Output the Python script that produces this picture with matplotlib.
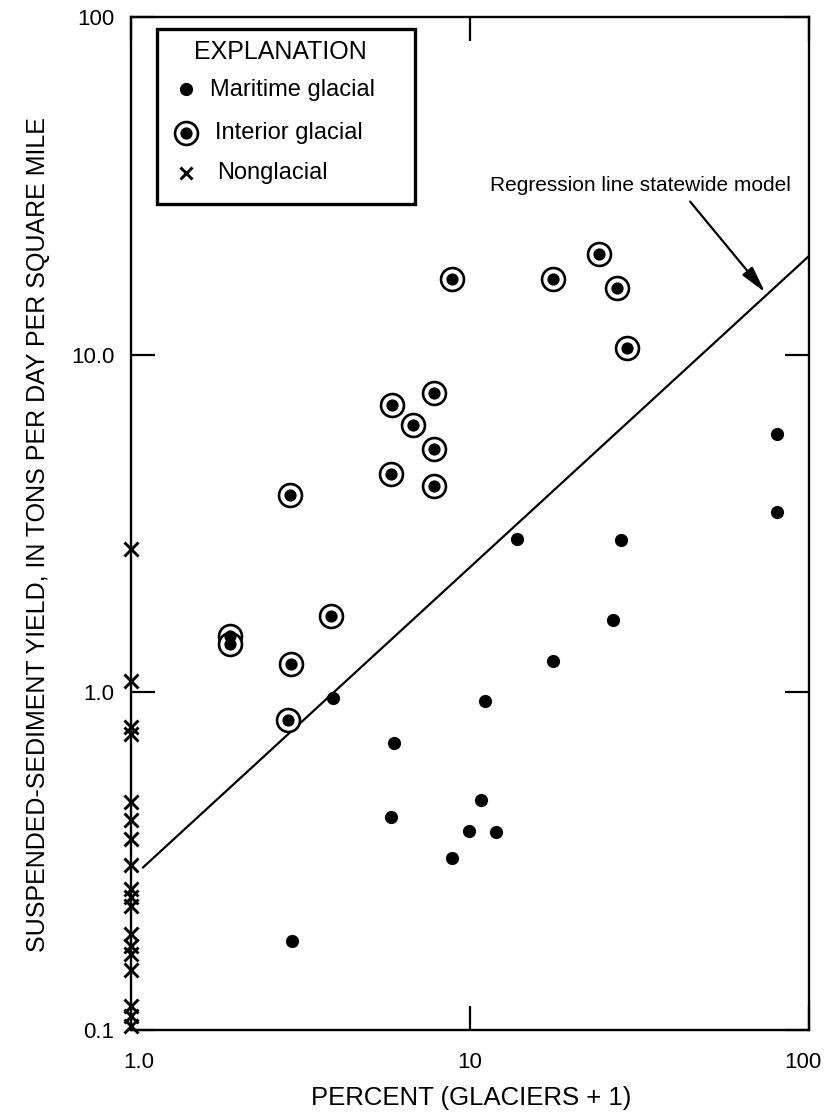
import matplotlib
matplotlib.use("Agg")
import matplotlib.pyplot as plt
from matplotlib.patches import Rectangle
from matplotlib.transforms import ScaledTranslation

plt.rcParams['font.family'] = ['Liberation Sans', 'DejaVu Sans']

# ---------------- data ----------------
maritime_x = [3.94, 2.99, 5.97, 5.85, 8.85, 9.93, 10.8, 11.9, 11.1, 13.8, 17.6, 26.4, 27.9, 80.5, 80.5]
maritime_y = [0.96, 0.183, 0.707, 0.427, 0.323, 0.388, 0.479, 0.386, 0.940, 2.84, 1.235, 1.64, 2.82, 5.84, 3.43]

interior_x = [8.85, 17.6, 24.0, 27.2, 29.0, 5.89, 7.83, 6.79, 7.83, 5.85, 7.83, 2.94, 3.89, 1.96, 1.96, 2.96, 2.90]
interior_y = [16.8, 16.8, 19.9, 15.8, 10.5, 7.11, 7.72, 6.21, 5.24, 4.44, 4.07, 3.85, 1.68, 1.47, 1.39, 1.21, 0.83]

nonglacial_x = [1.0] * 18
nonglacial_y = [2.65, 1.08, 0.788, 0.751, 0.473, 0.418, 0.367, 0.308, 0.261, 0.247, 0.233,
                0.192, 0.177, 0.168, 0.151, 0.118, 0.110, 0.103]

regression_x = [1.085, 100.0]
regression_y = [0.303, 19.6]

x_ticks = [1.0, 10.0, 100.0]
x_tick_labels = ["1.0", "10", "100"]
y_ticks = [0.1, 1.0, 10.0, 100.0]
y_tick_labels = ["0.1", "1.0", "10.0", "100"]

# ---------------- figure ----------------
fig = plt.figure(figsize=(8.25, 11.18), dpi=100)
ax = fig.add_axes([131 / 825, 88 / 1118, 678 / 825, 1013 / 1118])
ax.set_xscale('log')
ax.set_yscale('log')
ax.set_xlim(1, 100)
ax.set_ylim(0.1, 100)

for s in ax.spines.values():
    s.set_linewidth(1.7)

ax.set_xticks(x_ticks)
ax.set_xticklabels(x_tick_labels)
ax.set_yticks(y_ticks)
ax.set_yticklabels(y_tick_labels)
ax.minorticks_off()
ax.tick_params(which='major', direction='in', length=17, width=1.6,
               top=True, right=True, labelsize=16)
ax.tick_params(axis='x', pad=16)
ax.tick_params(axis='y', pad=12)

# nudge edge tick labels so they stay inside the figure
xlabels = ax.get_xticklabels()
xlabels[-1].set_transform(xlabels[-1].get_transform() +
                          ScaledTranslation(-6 / 100, 0, fig.dpi_scale_trans))
xlabels[0].set_transform(xlabels[0].get_transform() +
                         ScaledTranslation(8 / 100, 0, fig.dpi_scale_trans))

# regression line
ax.plot(regression_x, regression_y, color='black', lw=1.6, zorder=2)

# maritime glacial
ax.plot(maritime_x, maritime_y, 'o', color='black', ms=9.5, mew=0, zorder=3)
# interior glacial: ring + dot
ax.plot(interior_x, interior_y, 'o', mfc='white', mec='black', ms=16.5, mew=1.9, ls='none', zorder=3)
ax.plot(interior_x, interior_y, 'o', color='black', ms=8.8, mew=0, ls='none', zorder=4)
# nonglacial
ax.plot(nonglacial_x, nonglacial_y, 'x', color='black', ms=9.5, mew=2.1, ls='none',
        zorder=5, clip_on=False)

# regression annotation
ax.text(0.973, 0.834, "Regression line statewide model", transform=ax.transAxes,
        ha='right', va='center', fontsize=15)
ax.annotate("", xy=(74.2, 15.3), xytext=(44.6, 28.4),
            arrowprops=dict(arrowstyle='-|>,head_length=0.9,head_width=0.22', lw=1.6,
                            color='black', mutation_scale=18, shrinkA=0, shrinkB=0))

# legend box (explanation)
ax.add_patch(Rectangle((0.0383, 0.815), 0.419 - 0.0383, 0.988 - 0.815,
                       transform=ax.transAxes, fill=False, lw=2.4, ec='black', zorder=6))
ax.text(0.2198, 0.9655, "EXPLANATION", transform=ax.transAxes, ha='center', va='center',
        fontsize=18)
ax.plot([0.0811], [0.929], 'o', color='black', ms=9.5, mew=0, transform=ax.transAxes,
        clip_on=False)
ax.plot([0.0811], [0.8855], 'o', mfc='white', mec='black', ms=16.5, mew=1.9,
        transform=ax.transAxes, clip_on=False)
ax.plot([0.0811], [0.8855], 'o', color='black', ms=8.8, mew=0, transform=ax.transAxes,
        clip_on=False)
ax.plot([0.0811], [0.846], 'x', color='black', ms=8.5, mew=2.1, transform=ax.transAxes,
        clip_on=False)
ax.text(0.1165, 0.928, "Maritime glacial", transform=ax.transAxes, ha='left', va='center', fontsize=17)
ax.text(0.124, 0.8855, "Interior glacial", transform=ax.transAxes, ha='left', va='center', fontsize=17)
ax.text(0.127, 0.846, "Nonglacial", transform=ax.transAxes, ha='left', va='center', fontsize=17)

# axis labels
fig.text(471 / 825, (1118 - 1098) / 1118, "PERCENT (GLACIERS + 1)", ha='center', va='center',
         fontsize=18.5)
fig.text(38 / 825, (1118 - 535) / 1118,
         "SUSPENDED-SEDIMENT YIELD, IN TONS PER DAY PER SQUARE MILE",
         rotation=90, ha='center', va='center', fontsize=18)

fig.savefig("out.png", dpi=100)
